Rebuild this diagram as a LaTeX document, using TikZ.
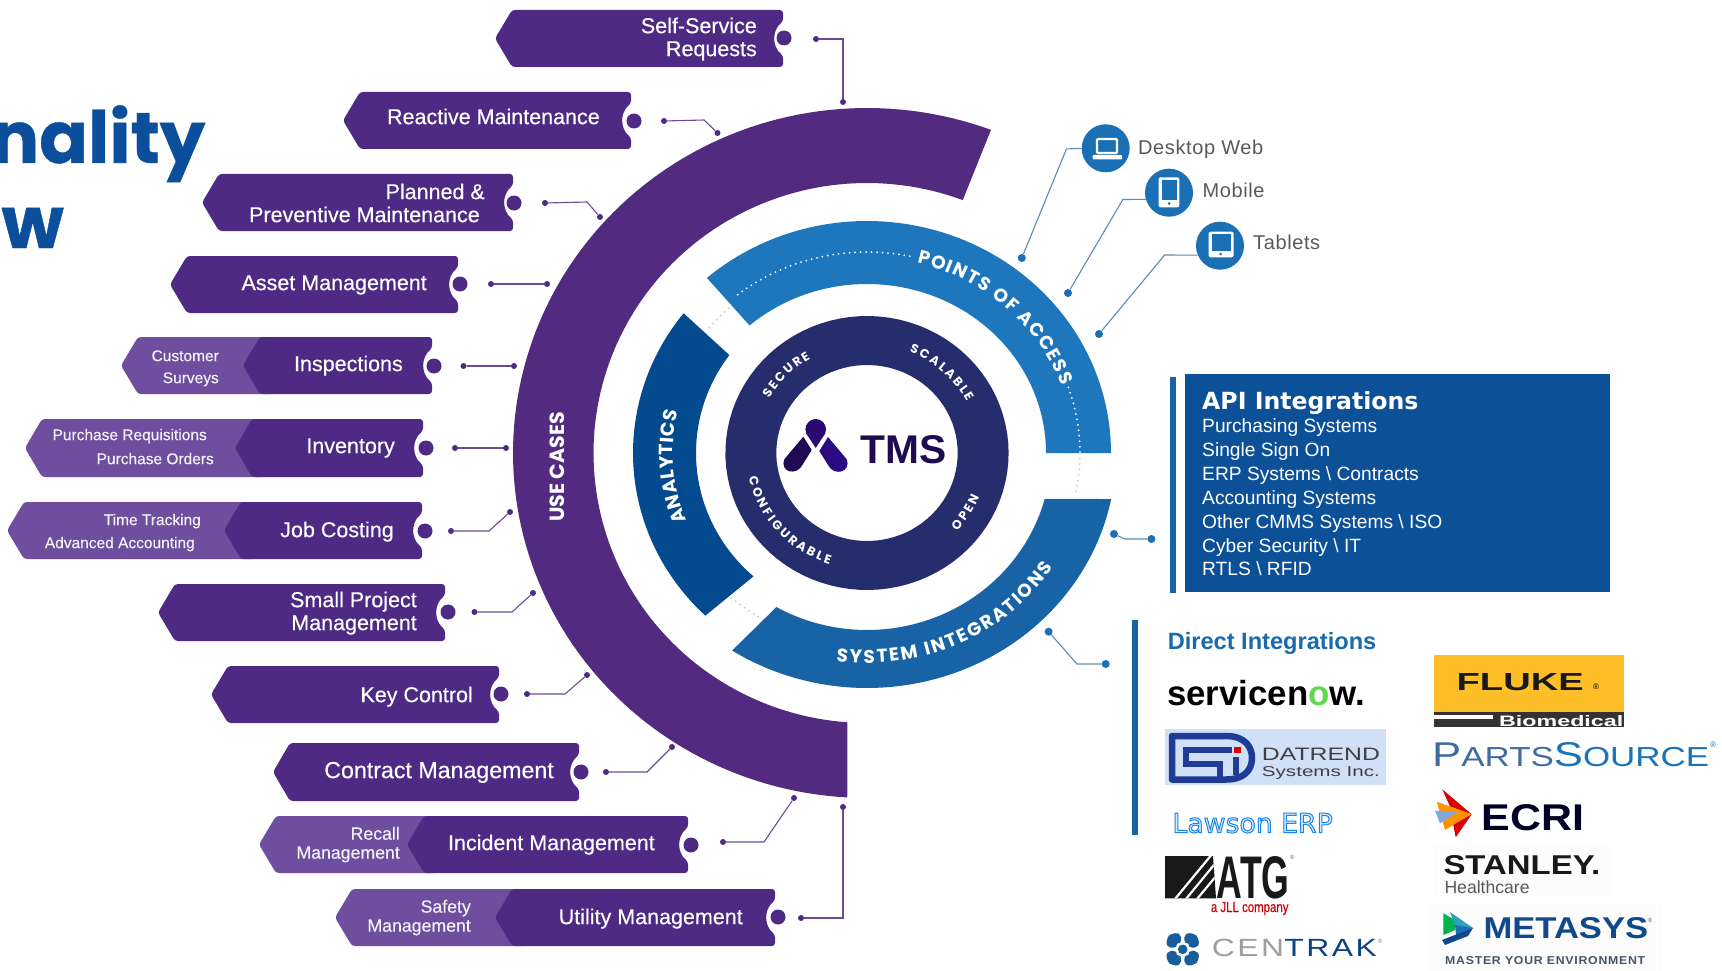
\documentclass[tikz,border=0pt]{standalone}
\usepackage{fontspec}
\usepackage{graphicx}
\usetikzlibrary{decorations.text}
\setmainfont{Liberation Sans}
\newfontfamily\tagf[FakeBold=0.35]{Liberation Sans}
\newfontfamily\popf{Poppins}
\newfontfamily\djv{DejaVu Sans}
\newcommand\fs[1]{\fontsize{#1}{#1}\selectfont}
\definecolor{usepurple}{HTML}{522B80}
\definecolor{tagdark}{HTML}{4E2A84}
\definecolor{taglight}{HTML}{6F4E9F}
\definecolor{poablue}{HTML}{1E76BC}
\definecolor{siblue}{HTML}{1763A5}
\definecolor{analblue}{HTML}{044A8F}
\definecolor{navyring}{HTML}{262D6C}
\definecolor{apibox}{HTML}{0C5098}
\definecolor{titleblue}{HTML}{0B4F9C}
\definecolor{dirblue}{HTML}{1A6BAE}
\definecolor{plinec}{HTML}{6A4C93}
\definecolor{blinec}{HTML}{5A8CB8}
\definecolor{dotb}{HTML}{1B6FB5}
\definecolor{navylogo}{HTML}{1E3C96}
\definecolor{tmsink}{HTML}{1E0B52}
\definecolor{tmstop}{HTML}{2A0A6E}
\definecolor{tmsright}{HTML}{2E0A82}
\definecolor{datbg}{HTML}{CFE0F7}
\definecolor{lawfill}{HTML}{DCEBFA}
\definecolor{flukey}{HTML}{FDBE28}
\definecolor{ecriblue}{HTML}{7FA8E0}
\definecolor{metateal}{HTML}{2F9FC0}
\definecolor{metablue}{HTML}{12498A}
\definecolor{mastc}{HTML}{45546A}
\tikzset{
  pdot/.style={circle,fill=tagdark,inner sep=0pt,minimum size=6pt},
  bdot/.style={circle,fill=dotb,inner sep=0pt,minimum size=8pt},
  pline/.style={draw=plinec,line width=1.1pt},
  bline/.style={draw=blinec,line width=1.1pt},
  notchdot/.style={circle,fill=tagdark,inner sep=0pt,minimum size=15pt},
  tt/.style={inner sep=0pt,yshift=-4.5pt,text=white,font=\tagf\fs{21.5}},
  ts/.style={inner sep=0pt,yshift=-2.5pt,text=white!92!taglight,font=\tagf\fs{15.5}},
  tm/.style={inner sep=0pt,yshift=-3pt,text=white!92!taglight,font=\tagf\fs{17.7}},
  api/.style={inner sep=0pt,yshift=-4pt,text=white,anchor=mid west,font=\fs{19.2}},
  acc/.style={inner sep=0pt,yshift=-4.4pt,text=black!65,anchor=mid west,font=\fs{20}\addfontfeature{LetterSpace=3}},
  lg/.style={inner sep=0pt},
  accircle/.style={circle,fill=dotb,inner sep=0pt,minimum size=48pt},
}
\newcommand\ringseg[9]{% cx cy rxo ryo rxi ryi a b colour
  \fill[#9] plot[domain=#7:#8,samples=90] ({#1+#3*cos(\x)},{#2-#4*sin(\x)})
    -- plot[domain=#8:#7,samples=90] ({#1+#5*cos(\x)},{#2-#6*sin(\x)}) -- cycle;}
\newcommand\etext[6]{% rx ry a b size text
  \path[decorate,decoration={text along path,text align={fit to path},
     text={|\color{white}\popf\bfseries\fs{#5}|#6}}]
    plot[domain=#3:#4,samples=70] ({867+#1*cos(\x)},{453-#2*sin(\x)});}
\newcommand\dotarc[5]{% rx ry a b colour
  \draw[#5,line width=2pt,line cap=round,dash pattern=on 0pt off 5.5pt]
    plot[domain=#3:#4,samples=60] ({867+#1*cos(\x)},{453-#2*sin(\x)});}
\newcommand\tagshape[4]{% xl xr yt yb
  \pgfmathsetmacro\ym{(#3+#4)/2}
  \fill[tagdark,rounded corners=3pt] (#1,\ym) -- (#1+17,#3) -- (#2,#3) -- (#2,\ym-17)
    .. controls (#2-11,\ym-8) and (#2-11,\ym+8) .. (#2,\ym+17) -- (#2,#4) -- (#1+17,#4) -- cycle;}
\newcommand\tailshape[4]{% xl xd yt yb
  \pgfmathsetmacro\ym{(#3+#4)/2}
  \fill[taglight,rounded corners=3pt] (#1,\ym) -- (#1+17,#3) -- (#2+30,#3) -- (#2+30,#4) -- (#1+17,#4) -- cycle;}
\newcommand\conn[5]{% kind id start mid end
  \node[#1dot] (#2s) at (#3) {};
  \coordinate (#2m) at (#4);
  \node[#1dot] (#2e) at (#5) {};
  \draw[#1line] (#2s) -- (#2m) -- (#2e);}
\begin{document}
\begin{tikzpicture}[x=1pt,y=-1pt]
\useasboundingbox (0,0) rectangle (1722,971);
\fill[white] (0,0) rectangle (1722,971);

% title fragment
\node[inner sep=0pt,anchor=base east,text=titleblue,font=\popf\bfseries\addfontfeature{FakeBold=0.6}\fs{72}] (titlea) at (205.5,163) {nality};
\node[inner sep=0pt,anchor=base east,text=titleblue,font=\popf\bfseries\addfontfeature{FakeBold=0.6}\fs{72}] (titleb) at (64,248) {w};

% rings
\fill[usepurple] plot[domain=69.5:266.8,samples=120] ({867+354*cos(\x)},{453-345*sin(\x)})
   -- plot[domain=265.9:69.5,samples=120] ({867+273.5*cos(\x)},{453-270*sin(\x)}) -- cycle;
\ringseg{867}{453}{244}{232}{179}{169}{0}{131}{poablue}
\fill[siblue] plot[domain=-11.3:-122.8,samples=90] ({867+249*cos(\x)},{453-235*sin(\x)})
   -- plot[domain=-119.5:-15,samples=90] ({867+184*cos(\x)},{453-177*sin(\x)}) -- cycle;
\fill[analblue] plot[domain=141.6:226.3,samples=60] ({867+234*cos(\x)},{453-225*sin(\x)})
   -- plot[domain=228.4:143.6,samples=60] ({867+171*cos(\x)},{453-165*sin(\x)}) -- cycle;
\ringseg{867}{453}{141.6}{137}{90.7}{88}{0}{360}{navyring}

% dotted guides
\dotarc{210}{201}{128}{77}{white}
\dotarc{213}{201}{19}{0}{white}
\dotarc{213}{201}{0}{-11}{black!22}
\dotarc{206}{195}{140}{131}{black!22}
\dotarc{205}{193}{228.6}{238.4}{black!22}

% ring labels
\etext{207}{196}{76}{20}{18.5}{POINTS OF ACCESS}
\etext{222}{210}{262}{327}{18.5}{SYSTEM INTEGRATIONS}
\etext{194}{185}{201.5}{167}{19}{ANALYTICS}
\etext{113}{109}{150}{120}{12.5}{SECURE}
\etext{113}{109}{68}{28}{12.5}{SCALABLE}
\etext{121}{117}{192}{252}{12.5}{CONFIGURABLE}
\etext{121}{117}{318}{338}{12.5}{OPEN}
\node[inner sep=0pt,rotate=90,text=white,font=\popf\bfseries\fs{20.5}] (usecases) at (557,467) {USE CASES};

% TMS logo
\fill[tmsink] (803.3,436.7) -- (811.7,450) -- (803,464) .. controls (797,477) and (779,472) .. (784.5,459) -- cycle;
\fill[tmstop] (806,433) -- (815.7,448) -- (825.4,433) -- cycle;
\fill[tmstop] (815.7,429.3) circle[radius=10.3pt];
\fill[tmsright] (828,437) -- (819.3,451) -- (828,465) .. controls (834,477) and (852,472) .. (846.5,459) -- cycle;
\node[inner sep=0pt,anchor=base west,text=tmsink,font=\bfseries] (tms) at (860.7,463) {\resizebox{86pt}{28pt}{TMS}};

% tags
\tagshape{495}{783}{10}{67}
\node[notchdot] (n1) at (784,38) {};
\node[tt,anchor=mid east] (t1a) at (757,26) {Self-Service};
\node[tt,anchor=mid east] (t1b) at (757,49) {Requests};

\tagshape{343}{631}{92}{149}
\node[notchdot] (n2) at (634,121) {};
\node[tt,anchor=mid east] (t2) at (600,117) {Reactive Maintenance};

\tagshape{202}{513}{174}{231}
\node[notchdot] (n3) at (514,203) {};
\node[tt,anchor=mid east] (t3a) at (485,192) {Planned \&};
\node[tt,anchor=mid east] (t3b) at (480,215) {Preventive Maintenance};

\tagshape{170}{458}{256}{313}
\node[notchdot] (n4) at (460,284) {};
\node[tt,anchor=mid east] (t4) at (427,283) {Asset Management};

\tailshape{121}{243}{337}{394}
\tagshape{243}{432}{337}{394}
\node[notchdot] (n5) at (434,366) {};
\node[tt,anchor=mid east] (t5) at (403,364) {Inspections};
\node[ts,anchor=mid east] (t5a) at (219,356) {Customer};
\node[ts,anchor=mid east] (t5b) at (219,378) {Surveys};

\tailshape{25}{235}{419}{477}
\tagshape{235}{423}{419}{477}
\node[notchdot] (n6) at (426,448) {};
\node[tt,anchor=mid east] (t6) at (395,446) {Inventory};
\node[ts,anchor=mid east] (t6a) at (207,435) {Purchase Requisitions};
\node[ts,anchor=mid east] (t6b) at (214,459) {Purchase Orders};

\tailshape{7}{224}{502}{559}
\tagshape{224}{422}{502}{559}
\node[notchdot] (n7) at (425,531) {};
\node[tt,anchor=mid east] (t7) at (394,530) {Job Costing};
\node[ts,anchor=mid east] (t7a) at (201,520) {Time Tracking};
\node[ts,anchor=mid east] (t7b) at (195,543) {Advanced Accounting};

\tagshape{158}{445}{584}{641}
\node[notchdot] (n8) at (448,612) {};
\node[tt,anchor=mid east] (t8a) at (417,600) {Small Project};
\node[tt,anchor=mid east] (t8b) at (417,623) {Management};

\tagshape{211}{499}{666}{723}
\node[notchdot] (n9) at (501,694) {};
\node[tt,anchor=mid east] (t9) at (473,695) {Key Control};

\tagshape{273}{579}{743}{801}
\node[notchdot] (n10) at (581,772) {};
\node[tt,anchor=mid east,font=\tagf\fs{23.2}] (t10) at (554,771) {Contract Management};

\tailshape{259}{407}{816}{873}
\tagshape{407}{688}{816}{873}
\node[notchdot] (n11) at (691,845) {};
\node[tt,anchor=mid east] (t11) at (655,843) {Incident Management};
\node[tm,anchor=mid east] (t11a) at (400,834) {Recall};
\node[tm,anchor=mid east] (t11b) at (400,853) {Management};

\tailshape{335}{495}{889}{946}
\tagshape{495}{775}{889}{946}
\node[notchdot] (n12) at (778,917) {};
\node[tt,anchor=mid east] (t12) at (743,917) {Utility Management};
\node[tm,anchor=mid east] (t12a) at (471,907) {Safety};
\node[tm,anchor=mid east] (t12b) at (471,926) {Management};

% purple connectors
\conn{p}{c1}{816,39}{843,39}{843,102}
\conn{p}{c2}{664,121}{704,120}{717.5,133}
\conn{p}{c3}{545,203}{587,202}{600,217}
\conn{p}{c4}{491,284}{520,284}{547,284}
\conn{p}{c5}{463.5,366}{490,366}{514,366}
\conn{p}{c6}{455,448}{480,448}{506,448}
\conn{p}{c7}{451,531}{489,531}{510,512}
\conn{p}{c8}{474.5,612}{512,612}{533,593}
\conn{p}{c9}{527,694}{565,694}{587,675}
\conn{p}{c10}{606,772}{647,772}{672,747}
\conn{p}{c11}{723,842}{764,842}{794,798}
\conn{p}{c12}{801,918}{843,918}{843,807}

% access points
\node[accircle] (desk) at (1105.7,148.3) {};
\node[accircle] (mob) at (1169,192.7) {};
\node[accircle] (tab) at (1220,245.7) {};
\node[bdot] (ad) at (1021.8,258) {};
\node[bdot] (am) at (1068,293) {};
\node[bdot] (at) at (1099,334) {};
\coordinate (adm) at (1066.4,149);
\coordinate (amm) at (1122.9,199.5);
\coordinate (atm) at (1164.6,255);
\draw[bline] (ad) -- (adm) -- (desk.180);
\draw[bline] (am) -- (amm) -- (mob.196);
\draw[bline] (at) -- (atm) -- (tab.203);
% icons
\draw[white,line width=2.4pt,rounded corners=1pt] (1097,139) rectangle (1117,153);
\fill[white,rounded corners=1pt] (1092.5,155) rectangle (1122,159.5);
\fill[white,rounded corners=2pt] (1158.6,177.3) rectangle (1179.3,207.3);
\fill[dotb] (1161.5,180) rectangle (1176.5,200);
\fill[dotb] (1169,203.5) circle[radius=1.5pt];
\fill[white,rounded corners=2pt] (1208.6,231.7) rectangle (1233.6,257.3);
\fill[dotb] (1211.5,234) rectangle (1230.5,250.5);
\fill[dotb] (1220.5,254) circle[radius=1.5pt];
\node[acc] (ldesk) at (1138,147) {Desktop Web};
\node[acc] (lmob) at (1202.5,190) {Mobile};
\node[acc] (ltab) at (1253,242) {Tablets};

% API box
\conn{b}{c13}{1114,534}{1124.6,539}{1151.4,539}
\fill[siblue] (1170,377) rectangle (1176,593);
\fill[apibox] (1184.6,374) rectangle (1610,591.7);
\node[inner sep=0pt,yshift=-6pt,anchor=mid west,text=white,font=\djv\bfseries\fs{23.6}] (apit) at (1202,401) {API Integrations};
\node[api] (a1) at (1202,426) {Purchasing Systems};
\node[api] (a2) at (1202,450) {Single Sign On};
\node[api] (a3) at (1202,474) {ERP Systems \textbackslash{} Contracts};
\node[api] (a4) at (1202,498) {Accounting Systems};
\node[api] (a5) at (1202,522) {Other CMMS Systems \textbackslash{} ISO};
\node[api] (a6) at (1202,546) {Cyber Security \textbackslash{} IT};
\node[api] (a7) at (1202,569) {RTLS \textbackslash{} RFID};

% direct integrations
\conn{b}{c14}{1048.6,631.7}{1077,664}{1105.7,664}
\fill[siblue] (1132,620) rectangle (1137.5,835);
\node[inner sep=0pt,yshift=-3.8pt,anchor=mid west,text=dirblue,font=\bfseries\fs{23.6}] (dirt) at (1167.6,643) {Direct Integrations};

% servicenow
\node[lg,anchor=base west,font=\bfseries\fs{34.8}] (snow) at (1167,705) {servicen\textcolor[HTML]{62D84E}{o}w.};

% datrend
\fill[datbg] (1165,729.3) rectangle (1386,785);
\draw[navylogo,line width=6.5pt,line join=round] (1172,736) -- (1226,736) .. controls (1246,736) and (1252,748) .. (1252,758) .. controls (1252,771) and (1243,779.5) .. (1226,779.5) -- (1172,779.5) -- cycle;
\draw[navylogo,line width=6pt] (1232,750) -- (1186,750) -- (1186,764) -- (1220,764) -- (1220,780);
\fill[red!85!black] (1234,747.3) rectangle (1240.7,753.3);
\draw[navylogo,line width=6pt] (1236,757) -- (1236,775);
\node[lg,anchor=base west,text=black!75] (dat1) at (1261.7,760.7) {\resizebox{118pt}{12.4pt}{DATREND}};
\node[lg,anchor=base west,text=black!75] (dat2) at (1261.7,776) {\resizebox{118pt}{10pt}{Systems Inc.}};

% lawson
\node[lg,anchor=base west,text=lawfill,font=\djv\fs{26.7}] (law) at (1172.3,832.7) {\special{pdf:code 0.10 0.52 0.91 RG 2 Tr 1 w}Lawson ERP};

% ATG
\begin{scope}
\clip (1165,856) -- (1213,856) -- (1216,898.3) -- (1165,898.3) -- cycle;
\fill[black!90] (1165,856) rectangle (1217,899);
\draw[white,line width=2.2pt] (1175,899) -- (1213,853);
\draw[white,line width=2.2pt] (1186,899) -- (1218,860);
\draw[white,line width=2.2pt] (1197,899) -- (1222,869);
\end{scope}
\node[lg,anchor=base west,text=black!90,font=\bfseries] (atg) at (1216.7,898.3) {\resizebox{72.6pt}{42pt}{ATG}};
\node[lg,anchor=mid,font=\fs{6},text=black!60] (atgr) at (1292.3,857.3) {®};
\node[lg,anchor=base west,text=red!80!black,font=\tagf] (jll) at (1210.7,912) {\resizebox{77.6pt}{10pt}{a JLL company}};

% centrak
\begin{scope}[shift={(1182.7,949.3)}]
\foreach \a in {45,135,225,315}{
  \fill[dotb!85!black,rotate=\a] (-3,-6.5) .. controls (-11,-10) and (-10,-17) .. (0,-19.5) .. controls (10,-17) and (11,-10) .. (3,-6.5) -- (0,-8) -- cycle;}
\fill[dotb!85!black] (0,0) circle[radius=4.8pt];
\end{scope}
\node[lg,anchor=base west] (cen) at (1211.7,956.7) {\resizebox{165pt}{17.4pt}{\addfontfeature{LetterSpace=8}\textcolor{black!38}{CEN}\textcolor{apibox!85!black}{TRAK}}};
\node[lg,anchor=mid,font=\fs{6},text=black!50] (cenr) at (1380,941) {®};

% fluke
\fill[flukey] (1433.5,655) rectangle (1624,712);
\fill[black!80] (1433.5,712) rectangle (1624,727);
\fill[white] (1433.5,714.5) rectangle (1493,719);
\node[lg,anchor=base west,font=\bfseries,text=black!90] (fluke) at (1456.5,690) {\resizebox{127pt}{17pt}{FLUKE}};
\node[lg,anchor=mid,font=\fs{8}] (flr) at (1596,687) {®};
\node[lg,anchor=base west,text=white,font=\bfseries] (bio) at (1499,726) {\resizebox{124pt}{11pt}{Biomedical}};

% partssource
\node[lg,anchor=base west] (parts) at (1432,766) {\resizebox{277pt}{24pt}{\textcolor[HTML]{3F6C9E}{\fs{30}P\fs{24}ARTS}\textcolor[HTML]{1973B8}{\fs{30}S\fs{24}OURCE}}};
\node[lg,anchor=mid,text=dirblue,font=\fs{8}] (partr) at (1713,745) {®};

% ecri
\fill[red!85!black] (1442.3,789.3) -- (1471.7,814.3) -- (1450,806.5) -- cycle;
\fill[orange!85!yellow] (1436.7,801.7) -- (1471.7,814.3) -- (1445,830) -- cycle;
\fill[ecriblue] (1435,810.7) -- (1458,811.7) -- (1440,823.3) -- cycle;
\fill[red!85!black] (1453.3,825) -- (1471.7,814.3) -- (1455.7,837.3) -- cycle;
\node[lg,anchor=base west,text=black!85!blue,font=\bfseries] (ecri) at (1481.7,830) {\resizebox{102.6pt}{26pt}{ECRI}};

% stanley
\fill[black!1] (1433,846) rectangle (1611.7,896.7);
\node[lg,anchor=base west,font=\bfseries,text=black!90] (stan) at (1443.3,874) {\resizebox{156.7pt}{19pt}{STANLEY.}};
\node[lg,anchor=base west,text=black!65,font=\fs{17.6}] (heal) at (1444.3,893) {Healthcare};

% metasys
\fill[black!1] (1430,904) rectangle (1663,971);
\fill[teal!60!green] (1443.3,913.3) -- (1455,920) -- (1455,930) -- (1443.3,935) -- cycle;
\fill[metateal] (1450,912) -- (1473,928) -- (1456,928) -- cycle;
\fill[dotb] (1455,925) -- (1473,928) -- (1456,935) -- cycle;
\fill[metablue] (1442,940) -- (1473,928) -- (1468,936) -- (1445,945) -- cycle;
\node[lg,anchor=base west,text=metablue,font=\bfseries] (meta) at (1483.3,938.3) {\resizebox{164.7pt}{21pt}{METASYS}};
\node[lg,anchor=mid,font=\fs{6},text=black!60] (metr) at (1650,920) {®};
\node[lg,anchor=base west,text=mastc,font=\bfseries] (mast) at (1445,964) {\resizebox{200pt}{8pt}{\addfontfeature{LetterSpace=6}MASTER YOUR ENVIRONMENT}};
\end{tikzpicture}
\end{document}
